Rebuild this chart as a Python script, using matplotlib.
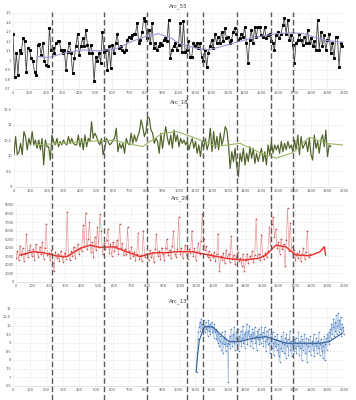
import numpy as np
import matplotlib
matplotlib.use("Agg")
import matplotlib.pyplot as plt
from matplotlib.ticker import FuncFormatter, MultipleLocator
from matplotlib.lines import Line2D
from matplotlib.transforms import blended_transform_factory

plt.rcParams['font.family'] = ['DejaVu Sans']

# ---------------- data ----------------
titles = ["Arc_55", "Arc_18", "Arc_26", "Arc_13"]
event_years = [236, 550, 810, 1051, 1148, 1353, 1559, 1692]

# Arc_55 (10-year steps from year 0)
arc55_start, arc55_step = 0, 10
arc55_vals = [
    1.28, 0.83, 1.08, 0.85, 1.11, 1.08, 1.23, 1.20, 0.88, 1.13,
    1.11, 1.02, 0.99, 0.88, 0.85, 1.16, 1.17, 1.06, 1.18, 0.99,
    0.95, 0.94, 1.34, 1.11, 1.13, 1.08, 1.18, 1.20, 1.20, 1.11,
    1.08, 1.11, 0.90, 1.09, 1.18, 1.08, 0.87, 1.02, 1.15, 1.28,
    1.06, 1.15, 1.23, 1.15, 1.32, 1.16, 1.08, 1.16, 1.08, 0.78,
    1.04, 0.99, 1.08, 0.97, 1.30, 1.09, 1.11, 0.90, 1.15, 0.92,
    1.16, 1.08, 1.18, 1.28, 1.13, 1.15, 1.11, 1.09, 1.11, 1.21,
    1.25, 1.23, 1.27, 1.28, 1.28, 1.39, 1.18, 1.21, 1.30, 1.44,
    1.41, 1.23, 1.32, 1.18, 1.39, 1.13, 1.18, 1.11, 1.15, 1.18,
    1.16, 1.21, 1.23, 1.20, 1.42, 1.02, 1.11, 1.15, 1.18, 1.11,
    1.16, 1.39, 1.09, 1.41, 1.09, 1.11, 1.20, 1.04, 1.04, 1.18,
    1.15, 1.18, 1.13, 1.18, 1.04, 0.99, 1.11, 0.93, 1.08, 1.15,
    1.21, 1.13, 1.28, 1.18, 1.25, 1.18, 1.30, 1.20, 1.34, 1.23,
    1.25, 1.18, 1.21, 1.30, 1.34, 1.28, 1.21, 1.23, 1.28, 1.25,
    1.35, 1.18, 0.97, 1.21, 1.32, 1.18, 1.35, 1.25, 1.35, 1.35,
    1.27, 1.25, 1.35, 1.23, 1.27, 1.28, 1.20, 1.18, 1.11, 1.27,
    1.30, 1.23, 1.28, 1.37, 1.44, 1.28, 1.42, 1.21, 1.27, 1.16,
    0.97, 1.18, 1.21, 1.28, 1.21, 1.16, 1.25, 1.18, 1.32, 1.18,
    1.23, 1.15, 1.20, 1.11, 1.42, 1.11, 1.30, 1.15, 1.27, 1.11,
    1.21, 1.28, 1.08, 1.18, 1.02, 1.25, 1.25, 0.93, 1.18, 1.15,
]
arc55_smooth_x = [150, 215, 320, 420, 520, 620, 720, 800, 880, 960, 1000,
                  1100, 1184, 1290, 1390, 1490, 1590, 1690, 1750, 1890, 1992]
arc55_smooth_y = [1.04, 1.03, 1.08, 1.11, 1.10, 1.12, 1.20, 1.25, 1.28, 1.23, 1.18,
                  1.13, 1.11, 1.16, 1.21, 1.25, 1.28, 1.29, 1.28, 1.21, 1.19]

# Arc_18 (10-year steps from year 0)
arc18_start, arc18_step = 0, 10
arc18_vals = [
    10.03, 10.62, 10.03, 10.13, 10.40, 10.03, 10.78, 10.62, 10.19, 10.56,
    10.35, 10.78, 10.35, 10.51, 10.24, 10.51, 10.19, 10.56, 9.70, 10.51,
    10.29, 10.29, 9.86, 10.67, 10.46, 10.35, 10.56, 10.29, 10.46, 10.35,
    10.51, 10.40, 10.35, 10.62, 10.40, 10.56, 10.40, 10.35, 10.35, 10.67,
    10.29, 10.56, 10.19, 10.67, 10.29, 10.56, 10.46, 11.10, 10.56, 10.73,
    10.62, 10.46, 10.35, 10.56, 10.03, 10.24, 10.56, 10.46, 10.35, 10.40,
    10.51, 10.56, 10.89, 10.13, 10.40, 10.24, 10.40, 10.08, 10.56, 10.40,
    10.35, 10.73, 10.40, 10.67, 10.46, 10.62, 10.78, 11.16, 10.94, 10.62,
    10.78, 11.26, 11.21, 10.83, 10.73, 10.40, 10.56, 10.46, 10.08, 10.73,
    10.24, 10.62, 10.94, 10.56, 10.35, 10.67, 10.24, 10.83, 10.46, 10.67,
    10.29, 10.56, 10.40, 10.51, 10.35, 10.46, 10.19, 10.40, 10.56, 10.24,
    10.46, 10.08, 10.35, 9.97, 10.46, 10.24, 10.56, 10.19, 10.40, 10.89,
    10.13, 10.78, 10.24, 10.62, 10.19, 10.73, 10.35, 10.56, 10.94, 10.83,
    10.35, 9.59, 10.13, 9.81, 10.24, 9.65, 9.33, 10.08, 9.81, 10.24,
    9.70, 10.08, 9.81, 10.29, 9.92, 10.24, 9.75, 10.08, 9.81, 10.03,
    10.24, 9.81, 10.13, 9.70, 10.35, 10.03, 10.46, 10.08, 10.35, 10.19,
    10.35, 10.08, 10.46, 10.13, 10.40, 10.19, 10.46, 10.24, 10.35, 10.13,
    10.51, 10.19, 10.67, 10.03, 10.62, 10.24, 10.35, 10.46, 10.13, 10.56,
    10.03, 9.86, 10.67, 10.24, 10.46, 10.08, 10.51, 10.67, 10.29, 10.83,
    9.97, 10.35, 10.29,
]
arc18_smooth_x = [120, 300, 500, 600, 700, 780, 900, 985, 1085, 1227, 1370,
                  1490, 1590, 1690, 1790, 1890, 1990]
arc18_smooth_y = [10.35, 10.40, 10.48, 10.50, 10.38, 10.30, 10.72, 10.78, 10.60,
                  10.30, 10.40, 10.10, 9.92, 10.10, 10.60, 10.40, 10.35]

# Arc_26 (8-year steps from year 0)
arc26_start, arc26_step = 0, 8
arc26_vals = [
    2800, 3600, 2500, 4200, 3100, 3900, 2400, 3300, 5600, 2900, 3700, 4300, 3000,
    3800, 2600, 4400, 3500, 2900, 4100, 3200, 4600, 2700, 3900, 6800, 3100,
    3400, 2600, 3700, 2200, 1200, 3500, 2800, 3300, 2400, 3600, 2900, 2300, 3400,
    2700, 8200, 3100, 2500, 3600, 3000, 4100, 2800, 3700, 4400, 3300, 4000,
    3600, 6600, 4200, 8100, 3800, 5000, 7000, 3500, 4600, 2900, 5200, 3700, 6400,
    4100, 7900, 5900, 3200, 4500, 3800, 4900, 6200, 3400, 4400, 3000, 4700,
    3600, 4200, 4900, 3300, 6800, 3900, 4500, 3100, 3800, 3200, 6400, 3600, 2800,
    4100, 3000, 3500, 2600, 3300, 5700, 2700, 3100, 2400, 6000, 2900, 3300,
    3200, 2500, 3700, 2900, 3400, 2300, 3800, 5600, 3000, 3600, 2700, 4000, 3300,
    2600, 3900, 5000, 3100, 3700, 2800, 4200, 5900, 3300, 2900, 3800, 7600,
    3300, 4000, 2800, 3600, 4300, 3100, 2700, 3800, 3400, 6000, 3000, 3900, 2600,
    3500, 4500, 3200, 4800, 8000, 5000, 3700, 4200, 2900, 3600, 2500, 3300,
    2900, 3500, 2400, 3200, 5600, 1200, 3000, 2600, 3400, 2200, 3700, 2800, 3300,
    2300, 5400, 2700, 3100, 2100, 2900, 3500, 2400, 2800, 1900, 3200, 1300,
    2600, 3200, 2200, 3000, 2700, 3600, 2300, 3100, 7400, 2800, 3300, 2500, 5500,
    3000, 2700, 3400, 2900, 3600, 6400, 4200, 6800, 7600, 5200, 6200, 4000,
    4600, 3300, 5000, 3800, 4400, 1800, 4900, 8600, 3600, 6900, 4100, 2900, 3700,
    2500, 3400, 2800, 3600, 2400, 3200, 3900, 2700, 3500, 6000, 2900, 3300,
]
arc26_smooth_x = [24, 105, 167, 248, 309, 390, 451, 512, 594, 675, 756, 838, 919,
                  976, 1077, 1177, 1280, 1382, 1482, 1524, 1585, 1646, 1707, 1793,
                  1854, 1880, 1888]
arc26_smooth_y = [3130, 3520, 3400, 3020, 2940, 3900, 4290, 4020, 4100, 3520, 2940,
                  3400, 3400, 3520, 3520, 3130, 2740, 2540, 2740, 3130, 4290, 4100,
                  3130, 3050, 3520, 4110, 3130]

# Arc_13 (4-year steps from year 1108)
arc13_start, arc13_step = 1108, 4
arc13_vals = [
    7.3, 8.4, 9.2, 9.6, 9.9, 10.2, 9.7, 10.4, 9.8, 10.1, 9.5, 10.3, 9.9, 9.6, 10.2,
    9.8, 10.0, 9.4, 10.3, 9.7, 10.1, 9.5, 9.9, 10.2, 9.6,
    9.9, 9.3, 10.1, 9.6, 9.8, 9.2, 9.7, 9.0, 9.5, 8.8, 9.4, 9.1, 8.6, 9.6, 9.0,
    8.4, 9.3, 8.9, 9.7, 8.5, 9.2, 8.8, 9.0, 6.7, 8.9,
    9.4, 8.7, 9.8, 9.1, 8.8, 9.5, 9.0, 9.9, 8.6, 9.3, 9.6, 8.9, 9.2, 9.8, 8.5,
    9.4, 9.1, 9.7, 8.8, 9.3, 10.0, 9.0, 9.5, 8.7, 9.6,
    9.2, 10.1, 8.9, 9.7, 9.4, 10.0, 8.8, 9.5, 9.1, 9.8, 8.7, 9.6, 9.3, 9.9, 9.0,
    9.4, 8.6, 9.7, 9.2, 9.8, 8.9, 9.5, 9.0, 9.9, 9.3,
    9.6, 8.8, 9.4, 9.9, 9.1, 8.5, 9.7, 9.2, 8.9, 9.8, 9.0, 8.4, 9.5, 9.3, 8.7,
    9.6, 9.0, 8.3, 9.4, 8.8, 9.2, 8.6, 9.5, 8.9, 8.2,
    9.1, 7.9, 8.7, 9.4, 8.5, 9.0, 9.6, 8.4, 8.9, 9.3, 8.1, 9.5, 8.8, 9.2, 8.3,
    9.0, 9.7, 8.6, 9.1, 8.2, 8.9, 9.4, 8.5, 9.2, 8.7,
    9.3, 8.4, 9.0, 8.8, 9.6, 8.3, 9.1, 8.7, 9.4, 8.0, 9.2, 8.6, 9.0, 9.5, 8.4,
    8.9, 9.3, 7.9, 8.8, 9.2, 8.5, 9.0, 9.4, 8.3, 8.9,
    9.1, 8.6, 9.5, 8.2, 9.0, 8.8, 9.3, 8.4, 9.1, 8.7, 9.6, 8.3, 8.9, 9.2, 8.5,
    9.0, 8.1, 8.8, 9.4, 8.0, 8.9, 9.3, 8.6, 9.5, 9.1,
    9.6, 8.9, 9.8, 9.3, 10.1, 9.5, 9.9, 10.4, 9.4, 10.2, 9.7, 10.6, 9.5, 10.0,
    10.7, 9.6, 10.3, 9.8, 10.5, 9.4, 10.1, 9.7, 9.9, 9.5,
]
arc13_smooth_x = [1106, 1115, 1125, 1155, 1205, 1245, 1305, 1366, 1447, 1528,
                  1590, 1650, 1750, 1850, 1910, 1990]
arc13_smooth_y = [7.3, 8.3, 9.14, 9.93, 9.93, 9.55, 9.06, 9.06, 9.26, 9.35,
                  9.16, 8.97, 8.97, 8.97, 9.06, 9.55]

# ---------------- layout ----------------
W, H = 356, 400
fig = plt.figure(figsize=(W / 100, H / 100), dpi=100)

def rect(left_px, right_px, top_px, bottom_px):
    return [left_px / W, 1 - bottom_px / H, (right_px - left_px) / W, (bottom_px - top_px) / H]

axes_px = [(13, 344, 12.7, 89.0), (14, 344, 109.3, 186.7),
           (16, 344, 205.0, 281.7), (13.3, 344, 308.3, 385.7)]
ylims = [(0.7, 1.5), (9.0, 11.5), (0, 9000), (6.5, 11.0)]
ysteps = [0.1, 0.5, 1000, 0.5]

def comma_fmt(v, pos):
    s = ('%.2f' % v).rstrip('0').rstrip('.')
    return s.replace('.', ',')

axs = []
for i, (l, r, t, b) in enumerate(axes_px):
    ax = fig.add_axes(rect(l, r, t, b))
    ax.set_xlim(0, 2000)
    ax.set_ylim(*ylims[i])
    ax.xaxis.set_major_locator(MultipleLocator(100))
    ax.yaxis.set_major_locator(MultipleLocator(ysteps[i]))
    ax.yaxis.set_major_formatter(FuncFormatter(comma_fmt))
    ax.xaxis.set_major_formatter(FuncFormatter(lambda v, p: '%d' % v))
    ax.tick_params(length=0, labelsize=2.6, labelcolor='#595959', pad=1.5)
    ax.grid(True, linestyle=(0, (1, 2)), color='#d0d0d0', linewidth=0.5)
    for s in ['top', 'right', 'left']:
        ax.spines[s].set_visible(False)
    ax.spines['bottom'].set_color('#d9d9d9')
    ax.spines['bottom'].set_linewidth(0.5)
    ax.set_axisbelow(True)
    ax.set_title(titles[i], fontsize=4, color='#404040', pad=4)
    axs.append(ax)

def yrs(start, step, vals):
    return start + step * np.arange(len(vals))

# Arc_55
ax = axs[0]
ax.plot(yrs(arc55_start, arc55_step, arc55_vals), arc55_vals, color='#404040',
        lw=0.6, marker='s', ms=1.2, mfc='black', mec='black')
ax.plot(arc55_smooth_x, arc55_smooth_y, color='#9a9ad8', lw=0.8)

# Arc_18
ax = axs[1]
ax.plot(yrs(arc18_start, arc18_step, arc18_vals), arc18_vals, color='#4f6228', lw=0.85)
ax.plot(arc18_smooth_x, arc18_smooth_y, color='#9bb565', lw=0.8)

# Arc_26
ax = axs[2]
ax.plot(yrs(arc26_start, arc26_step, arc26_vals), arc26_vals, color='#e59292',
        lw=0.45, marker='o', ms=1.2, mfc='#c0504d', mec='none')
ax.plot(arc26_smooth_x, arc26_smooth_y, color='#e8302a', lw=1.0)

# Arc_13
ax = axs[3]
ax.plot(yrs(arc13_start, arc13_step, arc13_vals), arc13_vals, color='#94b4de',
        lw=0.45, marker='o', ms=1.1, mfc='#4f81bd', mec='none')
ax.plot(arc13_smooth_x, arc13_smooth_y, color='#2f5d9a', lw=0.8)

# event lines across the whole figure
trans = blended_transform_factory(axs[0].transData, fig.transFigure)
for yr in event_years:
    fig.add_artist(Line2D([yr, yr], [0.0, 1 - 12 / H], transform=trans,
                          color='#5a5a5a', lw=1.0, linestyle=(0, (4, 2))))

fig.savefig('out.png', dpi=100)
